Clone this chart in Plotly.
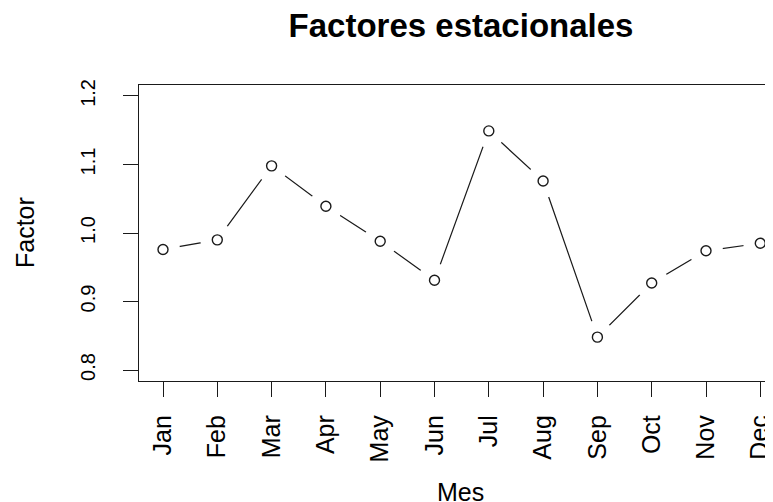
import plotly.graph_objects as go

# Seasonal factors by month
MONTHS = ['Jan', 'Feb', 'Mar', 'Apr', 'May', 'Jun',
          'Jul', 'Aug', 'Sep', 'Oct', 'Nov', 'Dec']
FACTORS = [0.976, 0.990, 1.098, 1.039, 0.988, 0.931,
           1.149, 1.076, 0.848, 0.927, 0.974, 0.985]
Y_TICKS = [0.8, 0.9, 1.0, 1.1, 1.2]

_FONT = 'Liberation Sans, Arial, sans-serif'
_INK = '#1a1a1a'

# the page body adds an 8px margin, so the figure is laid out
# 8px up/left of where things land in the window
_OFF = 8
_W, _H = 773, 502
_L, _T, _B, _R = 139 - _OFF, 85 - _OFF, 381 - _OFF, 780 - _OFF
_STEP = 54.3  # px per month

fig = go.Figure()

# connecting line
fig.add_trace(go.Scatter(
    x=MONTHS, y=FACTORS, mode='lines',
    line=dict(color=_INK, width=1.2),
    hoverinfo='skip',
))
# white masks around points, gives the R type="b" gaps
fig.add_trace(go.Scatter(
    x=MONTHS, y=FACTORS, mode='markers',
    marker=dict(symbol='circle', size=34, color='white',
                line=dict(width=0)),
    hoverinfo='skip',
))
# open circles
fig.add_trace(go.Scatter(
    x=MONTHS, y=FACTORS, mode='markers',
    marker=dict(symbol='circle', size=10, color='white',
                line=dict(color=_INK, width=1.4)),
    hovertemplate='%{x}: %{y:.3f}<extra></extra>',
))

fig.update_layout(
    width=_W, height=_H,
    margin=dict(l=_L, r=_W - _R, t=_T, b=_H - _B),
    paper_bgcolor='white', plot_bgcolor='white',
    font=dict(family=_FONT, color='black'),
    showlegend=False,
    title=dict(
        text='<b>Factores estacionales</b>',
        font=dict(size=33, color='black'),
        xref='container', x=(461 - _OFF) / _W, xanchor='center',
        yref='container', y=1 - (25 - _OFF) / _H, yanchor='middle',
    ),
    xaxis=dict(
        type='category',
        range=[-24 / _STEP, -24 / _STEP + (_R - _L) / _STEP],
        automargin=False,
        showgrid=False, zeroline=False,
        showline=True, linecolor=_INK, linewidth=1.4, mirror=True,
        ticks='outside', ticklen=15, tickwidth=1.4, tickcolor=_INK,
        tickangle=-90, tickfont=dict(size=25, color='black'),
        ticklabelstandoff=8,
    ),
    yaxis=dict(
        range=[0.784, 1.216],
        automargin=False,
        tickvals=Y_TICKS,
        ticktext=[f'{v:.1f}' for v in Y_TICKS],
        showgrid=False, zeroline=False,
        showline=True, linecolor=_INK, linewidth=1.4, mirror=False,
        ticks='outside', ticklen=15, tickwidth=1.4, tickcolor=_INK,
        tickangle=-90, tickfont=dict(size=20, color='black'),
        ticklabelstandoff=20,
    ),
    annotations=[
        dict(text='Factor', textangle=-90, showarrow=False,
             xref='paper', yref='paper',
             x=(25 - _OFF - _L) / (_R - _L), y=0.5,
             xanchor='center', yanchor='middle',
             font=dict(size=25, color='black')),
        dict(text='Mes', showarrow=False,
             xref='paper', yref='paper',
             x=(460 - _OFF - _L) / (_R - _L),
             y=(_B - (492 - _OFF)) / (_B - _T),
             xanchor='center', yanchor='middle',
             font=dict(size=25, color='black')),
    ],
)

fig.write_html('out.html')
